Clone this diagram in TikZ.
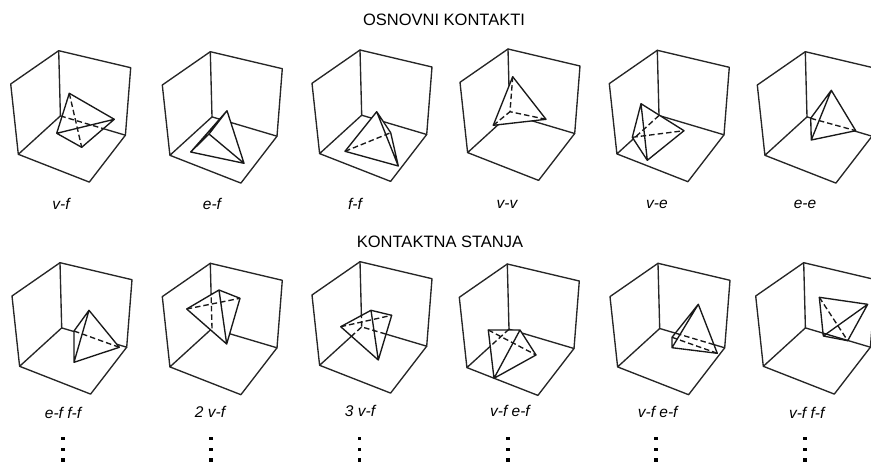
\documentclass[tikz,border=0pt]{standalone}
\usepackage{fontspec}
\setmainfont{Liberation Sans}
\begin{document}
\begin{tikzpicture}[x=1pt,y=-1pt,
    frm/.style={black!85,line width=1.35pt,line join=round,line cap=round},
    tet/.style={black!90,line width=1.35pt,line join=round,line cap=round},
    hid/.style={black!90,line width=1.35pt,dash pattern=on 5.5pt off 3pt},
    lab/.style={font=\fontsize{15.5}{17}\selectfont\itshape,inner sep=0pt},
    ttl/.style={font=\fontsize{16.5}{18}\selectfont,inner sep=0pt},
    pnt/.style={fill=black,inner sep=0pt,minimum size=3.6pt}]
  \useasboundingbox (0,0) rectangle (871,463);
  \node[ttl] (top) at (444,20) {OSNOVNI KONTAKTI};
  \node[ttl] (low) at (440,242) {KONTAKTNA STANJA};
  % the corners
  \foreach \n/\bx/\by in {1/58.7/50.7, 2/210.3/51.7, 3/360/50, 4/508/49, 5/657.3/50.3, 6/805.3/51.7,
      7/60/262.7, 8/210.3/263.3, 9/360/261.7, 10/507.3/264, 11/658/263.3, 12/803.7/262.7}{
    \coordinate (B\n) at (\bx,\by);
    \coordinate (A\n) at (\bx-48,\by+33.3);
    \coordinate (C\n) at (\bx+72,\by+17);
    \coordinate (D\n) at (\bx+66.7,\by+84.5);
    \coordinate (E\n) at (\bx+1.7,\by+65.2);
    \coordinate (F\n) at (\bx-40.4,\by+103.6);
    \coordinate (G\n) at (\bx+30.6,\by+131.4);
    \draw[frm] (E\n)--(F\n)--(A\n)--(B\n)--(C\n)--(D\n)--(G\n)--(F\n);
    \draw[frm] (B\n)--(E\n)--(D\n);
  }
  % the tetrahedra
  \foreach \n/\a/\b/\c/\d in {1/{69.3,93.3}/{114.3,119.3}/{81.7,147.3}/{56.7,133.3},
      2/{227,110.7}/{244,163.3}/{190.7,152}/{209,134},
      3/{376.7,111.7}/{398.3,166}/{345,151.3}/{390.7,132.7},
      4/{512.7,76.7}/{546,119.3}/{493.3,125.3}/{510,111.7},
      5/{641,103.7}/{684,130.7}/{647.3,160.3}/{632.3,137.3},
      6/{831.3,90.3}/{855.7,130.7}/{811.3,140}/{810.7,118.3},
      7/{89,310.3}/{119.3,347.3}/{74,362.3}/{74,331},
      8/{219,290}/{240,298.3}/{226.7,344}/{186.7,309},
      9/{371,310.3}/{391.7,315.3}/{378.3,360}/{340.7,326.7},
      10/{488.3,330}/{520,330}/{536,355}/{494,378.3},
      11/{698.3,304.3}/{717.3,353.3}/{672,347.7}/{672,337.3},
      12/{819.3,297.3}/{867.7,304.3}/{847.7,340.7}/{823.3,336}}{
    \coordinate (a\n) at (\a);
    \coordinate (b\n) at (\b);
    \coordinate (c\n) at (\c);
    \coordinate (d\n) at (\d);
  }
  % v-f
  \draw[tet,fill=white] (a1)--(b1)--(c1)--(d1)--cycle (d1)--(b1);
  \draw[hid] (a1)--(c1);
  \begin{scope}
    \clip (a1)--(b1)--(c1)--(d1)--cycle;
    \draw[hid] (E1)--(D1);
  \end{scope}
  % e-f
  \draw[tet,fill=white] (a2)--(b2)--(c2)--cycle (c2)--(d2)--(a2) (d2)--(b2);
  % f-f
  \draw[tet,fill=white] (a3)--(d3)--(b3)--(c3)--cycle (a3)--(b3);
  \draw[hid] (c3)--(d3);
  % v-v
  \draw[tet,fill=white] (a4)--(b4)--(c4)--cycle;
  \draw[hid] (a4)--(d4) (b4)--(d4) (c4)--(d4);
  % v-e
  \draw[tet,fill=white] (a5)--(b5)--(c5)--(d5)--cycle (a5)--(c5);
  \draw[hid] (d5)--(b5);
  \begin{scope}
    \clip (a5)--(b5)--(c5)--(d5)--cycle;
    \draw[hid] (E5)--(F5);
  \end{scope}
  % e-e
  \draw[tet,fill=white] (a6)--(b6)--(c6)--(d6)--cycle (a6)--(c6);
  \draw[hid] (d6)--(b6);
  % e-f f-f
  \draw[tet,fill=white] (a7)--(b7)--(c7)--(d7)--cycle (a7)--(c7);
  \draw[hid] (d7)--(b7);
  % 2 v-f
  \draw[tet,fill=white] (a8)--(b8)--(c8)--(d8)--cycle (a8)--(c8);
  \draw[hid] (d8)--(b8);
  \begin{scope}
    \clip (a8)--(b8)--(c8)--(d8)--cycle;
    \draw[hid] (B8)--(E8);
  \end{scope}
  % 3 v-f
  \draw[tet,fill=white] (a9)--(b9)--(c9)--(d9)--cycle (a9)--(c9);
  \draw[hid] (d9)--(b9);
  \begin{scope}
    \clip (a9)--(b9)--(c9)--(d9)--cycle;
    \draw[hid] (B9)--(E9) (F9)--(E9)--(D9);
  \end{scope}
  % v-f e-f
  \draw[tet,fill=white] (a10)--(b10)--(c10)--(d10)--cycle (b10)--(d10);
  \draw[hid] (a10)--(c10);
  \begin{scope}
    \clip (a10)--(b10)--(c10)--(d10)--cycle;
    \draw[hid] (E10)--(F10);
  \end{scope}
  % v-f e-f again
  \draw[tet,fill=white] (a11)--(b11)--(c11)--(d11)--cycle (a11)--(c11);
  \draw[hid] (d11)--(b11);
  \begin{scope}
    \clip (a11)--(b11)--(c11)--(d11)--cycle;
    \draw[hid] (E11)--(D11);
  \end{scope}
  % v-f f-f
  \draw[tet,fill=white] (a12)--(b12)--(c12)--(d12)--cycle (d12)--(b12);
  \draw[hid] (a12)--(c12);
  \begin{scope}
    \clip (a12)--(b12)--(c12)--(d12)--cycle;
    \draw[tet] (E12)--(D12);
  \end{scope}
  % labels
  \foreach \n/\x/\y/\t in {1/61/204/v-f, 2/212/204/e-f, 3/355/204/f-f, 4/507/204/v-v, 5/657/204/v-e, 6/805/204/e-e,
      7/63/413/e-f f-f, 8/210/411.7/2 v-f, 9/360/410.7/3 v-f, 10/510/410.7/v-f e-f, 11/657.7/411.7/v-f e-f, 12/806.7/413/v-f f-f}{
    \node[lab] (t\n) at (\x,\y) {\t};
  }
  % the dots
  \foreach \n/\x in {1/62.7, 2/211, 3/359.3, 4/507.7, 5/656, 6/805}{
    \foreach \m/\y in {1/438.5, 2/449.5, 3/460}{
      \node[pnt] (p\n\m) at (\x,\y) {};
    }
  }
\end{tikzpicture}
\end{document}
